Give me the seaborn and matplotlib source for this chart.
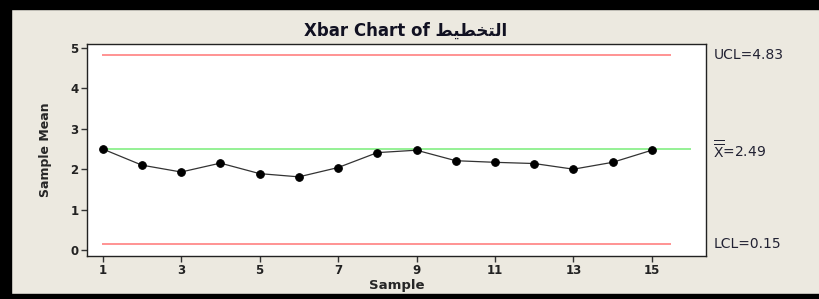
import matplotlib
matplotlib.use("Agg")
import matplotlib.pyplot as plt
import seaborn as sns
import pandas as pd
from matplotlib.patches import Rectangle

# sample means
samples = list(range(1, 16))
means = [2.50, 2.10, 1.93, 2.15, 1.89, 1.81, 2.04, 2.41, 2.47,
         2.21, 2.17, 2.14, 2.00, 2.17, 2.47]
ucl = 4.83
center = 2.49
lcl = 0.15
xticks = [1, 3, 5, 7, 9, 11, 13, 15]
yticks = [0, 1, 2, 3, 4, 5]

# arabic word pre-shaped (presentation forms, visual order) -> التخطيط
word = "\uFEC2\uFEF4\uFEC4\uFEA8\uFE98\uFEDF\uFE8D"
title = "Xbar Chart of " + word

df = pd.DataFrame({"Sample": samples, "Mean": means})

sns.set_theme(style="white")
plt.rcParams["font.family"] = ["DejaVu Sans"]
bg = "#ECE9E0"

fig = plt.figure(figsize=(8.2, 2.99), dpi=100, facecolor=bg)
ax = fig.add_axes([87 / 820, 1 - 256 / 299, (706 - 87) / 820, (256 - 44) / 299])
ax.set_facecolor("white")

ax.hlines([ucl, lcl], 0.97, 15.5, color="#FF8A8A", lw=1.3, zorder=1)
ax.hlines(center, 0.97, 16.0, color="#8CF08C", lw=1.3, zorder=1)

sns.lineplot(data=df, x="Sample", y="Mean", ax=ax, color="#333333", lw=0.9,
             marker="o", markersize=5.5, markerfacecolor="black",
             markeredgecolor="black", zorder=3)

ax.set_xlim(0.6, 16.38)
ax.set_ylim(-0.15, 5.1)
ax.set_xticks(xticks)
ax.set_yticks(yticks)
ax.tick_params(axis="both", direction="out", length=4, width=1, color="#333333",
               labelsize=8.5, labelcolor="#222222", pad=2, left=True, bottom=True)
for lab in ax.get_xticklabels() + ax.get_yticklabels():
    lab.set_fontweight("bold")
for s in ax.spines.values():
    s.set_color("#222222")
    s.set_linewidth(1.0)

ax.set_xlabel("Sample", fontsize=9.5, fontweight="bold", labelpad=1)
ax.set_ylabel("Sample Mean", fontsize=9, fontweight="bold", labelpad=13)
ax.set_title(title, fontsize=12, fontweight="bold", color="#111122", pad=6, x=0.515)

# control limit labels at the right
tx = 1.012
ax.text(tx, ucl, "UCL=4.83", transform=ax.get_yaxis_transform(), va="center",
        ha="left", fontsize=10, color="#222233")
ax.text(tx, center, r"$\overline{\overline{\mathrm{X}}}$=2.49",
        transform=ax.get_yaxis_transform(), va="center", ha="left",
        fontsize=10, color="#222233")
ax.text(tx, lcl, "LCL=0.15", transform=ax.get_yaxis_transform(), va="center",
        ha="left", fontsize=10, color="#222233")

# black frame around the picture
fig.add_artist(Rectangle((0, 1 - 9 / 299), 1, 9 / 299, transform=fig.transFigure,
                         color="black", zorder=10))
fig.add_artist(Rectangle((0, 0), 11 / 820, 1, transform=fig.transFigure,
                         color="black", zorder=10))
fig.add_artist(Rectangle((0, 0), 1, 5 / 299, transform=fig.transFigure,
                         color="black", zorder=10))

fig.savefig("out.png", dpi=100, facecolor=bg)
